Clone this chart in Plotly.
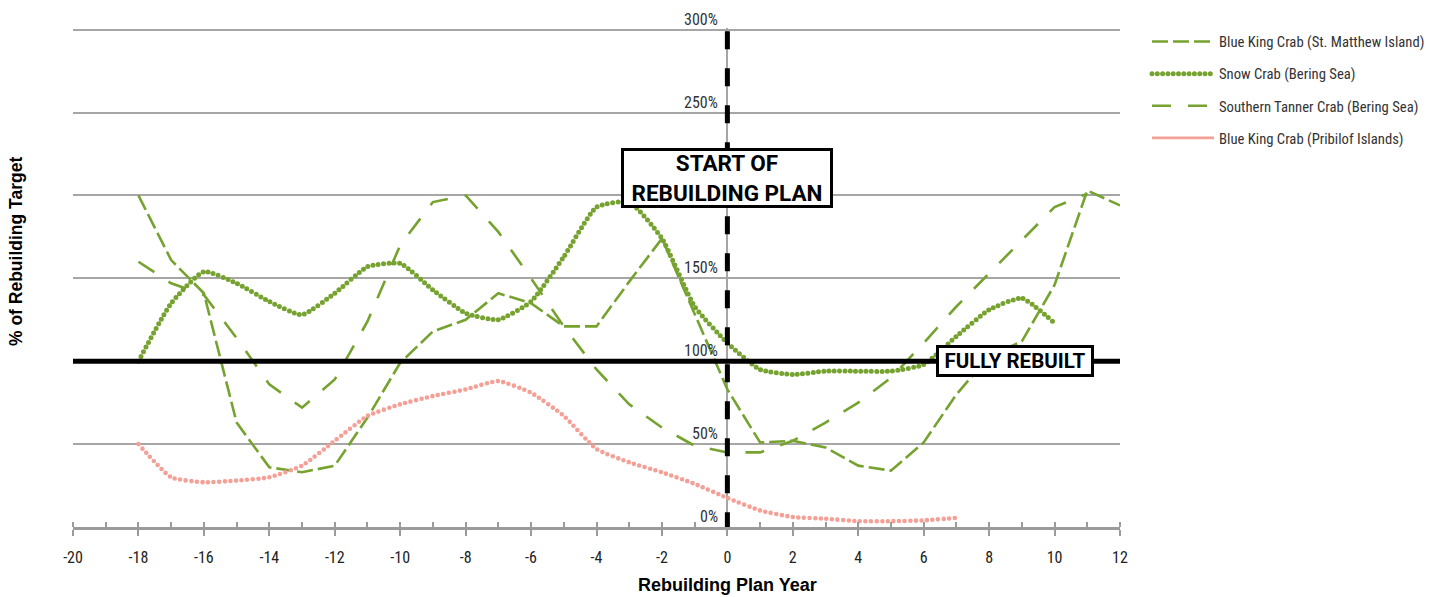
import plotly.graph_objects as go

# ---------------- data ----------------
years_st_matthew = list(range(-18, 13))
st_matthew = [200, 161, 141, 63, 36, 33, 37, 66, 99, 118, 125, 141, 135, 121, 121, 148,
              174, 128, 83, 51, 52, 48, 37, 34, 51, 80, 103, 112, 146, 203, 194]

years_snow = list(range(-18, 11))
snow = [100, 135, 154, 147, 136, 128, 141, 157, 159, 143, 129, 125, 136, 163, 193, 196,
        174, 133, 111, 95, 92, 94, 94, 94, 98, 115, 131, 138, 123]

years_tanner = list(range(-18, 12))
tanner = [160, 147, 140, 114, 86, 72, 89, 124, 170, 196, 200, 178, 150, 121, 95, 74,
          60, 49, 45, 45, 52, 63, 75, 90, 111, 133, 153, 173, 193, 201]

years_pribilof = list(range(-18, 8))
pribilof = [50, 30, 27, 28, 30, 37, 52, 67, 74, 79, 83, 88, 81, 67, 47, 39, 33, 26,
            17.5, 10, 6, 5, 3.5, 3.5, 4, 5.5]

series_names = ["Blue King Crab (St. Matthew Island)", "Snow Crab (Bering Sea)",
                "Southern Tanner Crab (Bering Sea)", "Blue King Crab (Pribilof Islands)"]

x_tick_vals = list(range(-20, 13))
x_tick_text = [str(v) if v % 2 == 0 else "" for v in x_tick_vals]
y_grid_vals = [0, 50, 100, 150, 200, 250, 300]
y_label_vals = [0, 50, 100, 150, 250, 300]
y_label_text = ["0%", "50%", "100%", "150%", "250%", "300%"]

rebuilt_level = 100
plan_start_year = 0

# ---------------- style ----------------
GREEN = "#76A22F"
PINK = "#F4A097"
GRID = "#A6A6A6"
FONT = "Liberation Sans Narrow, Roboto Condensed, Roboto, sans-serif"
BOLD = "Roboto, Liberation Sans, sans-serif"
ARIAL = "Liberation Sans, Arial, sans-serif"

fig = go.Figure()

fig.add_trace(go.Scatter(x=years_st_matthew, y=st_matthew, mode="lines", name=series_names[0],
                         legendgroup="a", line=dict(color=GREEN, width=2.6, dash="16px,5px")))
fig.add_trace(go.Scatter(x=years_snow, y=snow, mode="lines", name=series_names[1],
                         legendgroup="b",
                         line=dict(color=GREEN, width=5, dash="0px,5.3px", shape="spline", smoothing=0.5)))
fig.add_trace(go.Scatter(x=years_tanner, y=tanner, mode="lines", name=series_names[2],
                         legendgroup="c", line=dict(color=GREEN, width=2.6, dash="19px,17px")))
fig.add_trace(go.Scatter(x=years_pribilof, y=pribilof, mode="lines", name=series_names[3],
                         showlegend=False, legendgroup="d",
                         line=dict(color=PINK, width=4.6, dash="0px,5.6px", shape="spline", smoothing=0.5)))
# legend entry for Pribilof (solid in legend)
fig.add_trace(go.Scatter(x=[None], y=[None], mode="lines", name=series_names[3], legendgroup="d",
                         line=dict(color=PINK, width=2.6)))

# thick 100% line and start-of-plan dashed line
fig.add_shape(type="line", xref="x", yref="y", x0=-20, x1=12, y0=rebuilt_level, y1=rebuilt_level,
              line=dict(color="black", width=5), layer="above")
fig.add_shape(type="line", xref="x", yref="y", x0=plan_start_year, x1=plan_start_year, y0=-2, y1=300,
              line=dict(color="black", width=5, dash="18px,19px"), layer="above")

annotations = []
for v, t in zip(y_label_vals, y_label_text):
    annotations.append(dict(x=plan_start_year, y=v, xref="x", yref="y", text=t, showarrow=False,
                            xanchor="right", yanchor="bottom", xshift=-7, yshift=-1,
                            font=dict(family=FONT, size=16, color="#333333")))

annotations.append(dict(x=plan_start_year, y=210.5, xref="x", yref="y",
                        text="<b>START OF<br>REBUILDING PLAN</b>", showarrow=False,
                        xanchor="center", yanchor="middle", align="center",
                        width=206, height=54, bgcolor="white", bordercolor="black",
                        borderwidth=3, borderpad=0,
                        font=dict(family=BOLD, size=22.5, color="black")))
annotations.append(dict(x=8.79, y=rebuilt_level, xref="x", yref="y",
                        text="<b>FULLY REBUILT</b>", showarrow=False,
                        xanchor="center", yanchor="middle",
                        width=152, height=26, bgcolor="white", bordercolor="black",
                        borderwidth=3, borderpad=0,
                        font=dict(family=BOLD, size=20.5, color="black")))
annotations.append(dict(x=-0.0545, y=0.553, xref="paper", yref="paper",
                        text="<b>% of Rebuilding Target</b>", showarrow=False, textangle=-90,
                        xanchor="center", yanchor="middle",
                        font=dict(family=ARIAL, size=17.5, color="black")))
annotations.append(dict(x=plan_start_year, y=-0.116, xref="x", yref="paper",
                        text="<b>Rebuilding Plan Year</b>", showarrow=False,
                        xanchor="center", yanchor="middle",
                        font=dict(family=ARIAL, size=18, color="black")))

fig.update_layout(
    width=1445, height=597,
    margin=dict(l=73, r=325, t=28, b=70, autoexpand=False),
    paper_bgcolor="white", plot_bgcolor="white",
    showlegend=True,
    legend=dict(xref="container", x=1147 / 1445, y=1.005, xanchor="left", yanchor="top",
                itemwidth=62, tracegroupgap=10, traceorder="grouped",
                font=dict(family=FONT, size=14.7, color="#333333")),
    annotations=annotations,
    xaxis=dict(range=[-20, 12], tickmode="array", tickvals=x_tick_vals, ticktext=x_tick_text,
               showgrid=False, zeroline=True, zerolinecolor=GRID, zerolinewidth=2,
               showline=True, linecolor="#9B9B9B", linewidth=3,
               ticks="outside", ticklen=6, tickwidth=2, tickcolor="#9B9B9B",
               minor=dict(ticks="inside", tickmode="array", tickvals=x_tick_vals,
                          ticklen=5, tickwidth=2, tickcolor="#9B9B9B"),
               ticklabelstandoff=8,
               tickfont=dict(family=FONT, size=16, color="#222222")),
    yaxis=dict(range=[0, 301], tickmode="array", tickvals=y_grid_vals, showticklabels=False,
               showgrid=True, gridcolor=GRID, gridwidth=2, zeroline=False, showline=False,
               ticks=""),
)

post_js = """
document.body.style.margin = '0';
document.body.style.padding = '0';
var gd = document.getElementById('{plot_id}');
function roundDots(){
  gd.querySelectorAll('path').forEach(function(p){
    var d = (p.style.strokeDasharray || '').replace(/\\s/g,'');
    if (d.indexOf('0px,') === 0) { p.style.strokeLinecap = 'round'; }
  });
}
roundDots();
gd.on('plotly_afterplot', roundDots);
"""

fig.write_html("out.html", post_script=post_js, config={"displayModeBar": False})
